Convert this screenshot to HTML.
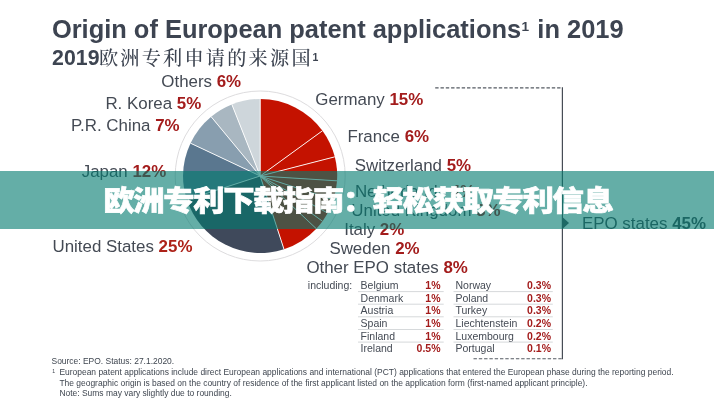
<!DOCTYPE html>
<html><head><meta charset="utf-8"><title>Origin of European patent applications</title>
<style>
html,body{margin:0;padding:0;background:#fff;}
body{width:714px;height:400px;overflow:hidden;position:relative;font-family:"Liberation Sans","Noto Sans CJK SC",sans-serif;}
svg{position:absolute;left:0;top:0;display:block}
text{font-family:"Liberation Sans","Noto Sans CJK SC",sans-serif;fill:#444a54}
.ttl{font-size:25.45px;font-weight:bold;fill:#3d4451}
.sub{font-size:21.3px;font-weight:bold;fill:#3d4451}
.cn{font-family:"Liberation Serif","Noto Serif CJK SC",serif;font-weight:500;font-size:19.2px;letter-spacing:2.2px;fill:#3d4451}
.lb{font-size:16.9px}
.pc{font-weight:bold;fill:#a31c1c}
.tc{font-size:10.5px}
.tp{font-size:10.5px;font-weight:bold;fill:#a31c1c;text-anchor:end}
.fn{font-size:8.46px;fill:#3f4650}
#banner{position:absolute;left:0;top:171px;width:714px;height:57.5px;background:rgba(2,122,111,0.61);}
#banner span{position:absolute;left:0.9px;width:714px;text-align:center;top:1.8px;line-height:58px;font-family:"Liberation Sans","Noto Sans CJK SC",sans-serif;font-weight:900;font-size:31.4px;letter-spacing:-1.45px;color:#fff;-webkit-text-stroke:0.7px #fff;transform:scaleY(0.895);transform-origin:50% 50%;white-space:nowrap}
</style></head><body>
<svg width="714" height="400" viewBox="0 0 714 400">
<text x="51.9" y="37.8" class="ttl">Origin of European patent applications<tspan font-size="13.6" dy="-6.5" dx="0.4">1</tspan><tspan dy="6.5" dx="1.2"> in 2019</tspan></text>
<text x="52.1" y="64.6" class="sub">2019<tspan class="cn" dx="-0.6" dy="0.6">欧洲专利申请的来源国</tspan><tspan font-size="10.5" dy="-4.7" dx="-0.3">1</tspan></text>
<circle cx="260.2" cy="176.0" r="85" fill="none" stroke="#dddcde" stroke-width="1"/>
<path d="M260.20,176.00 L260.20,99.00 A77.0,77.0 0 0 1 322.49,130.74 Z" fill="#c41200"/>
<path d="M260.20,176.00 L322.49,130.74 A77.0,77.0 0 0 1 334.78,156.85 Z" fill="#c41200"/>
<path d="M260.20,176.00 L334.78,156.85 A77.0,77.0 0 0 1 337.05,180.83 Z" fill="#c41200"/>
<path d="M260.20,176.00 L337.05,180.83 A77.0,77.0 0 0 1 333.43,199.79 Z" fill="#c41200"/>
<path d="M260.20,176.00 L333.43,199.79 A77.0,77.0 0 0 1 327.68,213.10 Z" fill="#c41200"/>
<path d="M260.20,176.00 L327.68,213.10 A77.0,77.0 0 0 1 322.49,221.26 Z" fill="#c41200"/>
<path d="M260.20,176.00 L322.49,221.26 A77.0,77.0 0 0 1 316.33,228.71 Z" fill="#c41200"/>
<path d="M260.20,176.00 L316.33,228.71 A77.0,77.0 0 0 1 283.99,249.23 Z" fill="#c41200"/>
<path d="M260.20,176.00 L283.99,249.23 A77.0,77.0 0 0 1 186.97,199.79 Z" fill="#3f495b"/>
<path d="M260.20,176.00 L186.97,199.79 A77.0,77.0 0 0 1 190.53,143.21 Z" fill="#5a778f"/>
<path d="M260.20,176.00 L190.53,143.21 A77.0,77.0 0 0 1 211.12,116.67 Z" fill="#889eaf"/>
<path d="M260.20,176.00 L211.12,116.67 A77.0,77.0 0 0 1 231.85,104.41 Z" fill="#a9b7c1"/>
<path d="M260.20,176.00 L231.85,104.41 A77.0,77.0 0 0 1 260.20,99.00 Z" fill="#ced6db"/>
<g stroke="#fff" stroke-width="1" stroke-opacity="0.9">
<line x1="260.20" y1="176.00" x2="260.20" y2="99.00"/>
<line x1="260.20" y1="176.00" x2="322.49" y2="130.74"/>
<line x1="260.20" y1="176.00" x2="334.78" y2="156.85"/>
<line x1="260.20" y1="176.00" x2="337.05" y2="180.83"/>
<line x1="260.20" y1="176.00" x2="333.43" y2="199.79"/>
<line x1="260.20" y1="176.00" x2="327.68" y2="213.10"/>
<line x1="260.20" y1="176.00" x2="322.49" y2="221.26"/>
<line x1="260.20" y1="176.00" x2="316.33" y2="228.71"/>
<line x1="260.20" y1="176.00" x2="283.99" y2="249.23"/>
<line x1="260.20" y1="176.00" x2="186.97" y2="199.79"/>
<line x1="260.20" y1="176.00" x2="190.53" y2="143.21"/>
<line x1="260.20" y1="176.00" x2="211.12" y2="116.67"/>
<line x1="260.20" y1="176.00" x2="231.85" y2="104.41"/>
</g>
<text x="315.3" y="104.7" class="lb">Germany <tspan class="pc">15%</tspan></text>
<text x="347.4" y="141.5" class="lb">France <tspan class="pc">6%</tspan></text>
<text x="354.7" y="171.2" class="lb">Switzerland <tspan class="pc">5%</tspan></text>
<text x="354.9" y="197.4" class="lb">Netherlands <tspan class="pc">4%</tspan></text>
<text x="351.3" y="216.1" class="lb">United Kingdom <tspan class="pc">3%</tspan></text>
<text x="344.2" y="235.3" class="lb">Italy <tspan class="pc">2%</tspan></text>
<text x="329.4" y="253.8" class="lb">Sweden <tspan class="pc">2%</tspan></text>
<text x="306.4" y="272.5" class="lb">Other EPO states <tspan class="pc">8%</tspan></text>
<text x="161.3" y="87.2" class="lb">Others <tspan class="pc">6%</tspan></text>
<text x="105.4" y="109.3" class="lb">R. Korea <tspan class="pc">5%</tspan></text>
<text x="71" y="131.2" class="lb">P.R. China <tspan class="pc">7%</tspan></text>
<text x="81.7" y="176.5" class="lb">Japan <tspan class="pc">12%</tspan></text>
<text x="52.5" y="252.1" class="lb">United States <tspan class="pc" style="fill:#ad2219">25%</tspan></text>
<text x="307.8" y="289" class="tc">including:</text>
<text x="360.6" y="289.0" class="tc">Belgium</text><text x="440.5" y="289.0" class="tp">1%</text><text x="455.5" y="289.0" class="tc">Norway</text><text x="551" y="289.0" class="tp">0.3%</text>
<path d="M358,291.6H443.7M453.5,291.6H552.8" stroke="#c4c8cc" stroke-width="0.7" fill="none"/>
<text x="360.6" y="301.6" class="tc">Denmark</text><text x="440.5" y="301.6" class="tp">1%</text><text x="455.5" y="301.6" class="tc">Poland</text><text x="551" y="301.6" class="tp">0.3%</text>
<path d="M358,304.2H443.7M453.5,304.2H552.8" stroke="#c4c8cc" stroke-width="0.7" fill="none"/>
<text x="360.6" y="314.2" class="tc">Austria</text><text x="440.5" y="314.2" class="tp">1%</text><text x="455.5" y="314.2" class="tc">Turkey</text><text x="551" y="314.2" class="tp">0.3%</text>
<path d="M358,316.8H443.7M453.5,316.8H552.8" stroke="#c4c8cc" stroke-width="0.7" fill="none"/>
<text x="360.6" y="326.9" class="tc">Spain</text><text x="440.5" y="326.9" class="tp">1%</text><text x="455.5" y="326.9" class="tc">Liechtenstein</text><text x="551" y="326.9" class="tp">0.2%</text>
<path d="M358,329.5H443.7M453.5,329.5H552.8" stroke="#c4c8cc" stroke-width="0.7" fill="none"/>
<text x="360.6" y="339.5" class="tc">Finland</text><text x="440.5" y="339.5" class="tp">1%</text><text x="455.5" y="339.5" class="tc">Luxembourg</text><text x="551" y="339.5" class="tp">0.2%</text>
<path d="M358,342.1H443.7M453.5,342.1H552.8" stroke="#c4c8cc" stroke-width="0.7" fill="none"/>
<text x="360.6" y="352.1" class="tc">Ireland</text><text x="440.5" y="352.1" class="tp">0.5%</text><text x="455.5" y="352.1" class="tc">Portugal</text><text x="551" y="352.1" class="tp">0.1%</text>
<path d="M435.2,87.8H562.5" stroke="#555b63" stroke-width="1.15" stroke-dasharray="3.4,1.9" fill="none"/>
<path d="M473.5,358.7H562.5" stroke="#555b63" stroke-width="1.15" stroke-dasharray="3.4,1.9" fill="none"/>
<path d="M562.4,87.2V359.2" stroke="#474d56" stroke-width="1.2" fill="none"/>
<path d="M562.4,217L569,223L562.4,229Z" fill="#474d56"/>
<text x="582" y="228.7" class="lb">EPO states <tspan font-weight="bold">45%</tspan></text>
<text x="51.5" y="363.7" class="fn">Source: EPO. Status: 27.1.2020.</text>
<text x="52.3" y="373" class="fn" style="font-size:5.2px">1</text>
<text x="59.4" y="375.2" class="fn">European patent applications include direct European applications and international (PCT) applications that entered the European phase during the reporting period.</text>
<text x="59.4" y="385.7" class="fn">The geographic origin is based on the country of residence of the first applicant listed on the application form (first-named applicant principle).</text>
<text x="59.4" y="395.8" class="fn">Note: Sums may vary slightly due to rounding.</text>
</svg>
<div id="banner"><span>欧洲专利下载指南：轻松获取专利信息</span></div>
</body></html>
